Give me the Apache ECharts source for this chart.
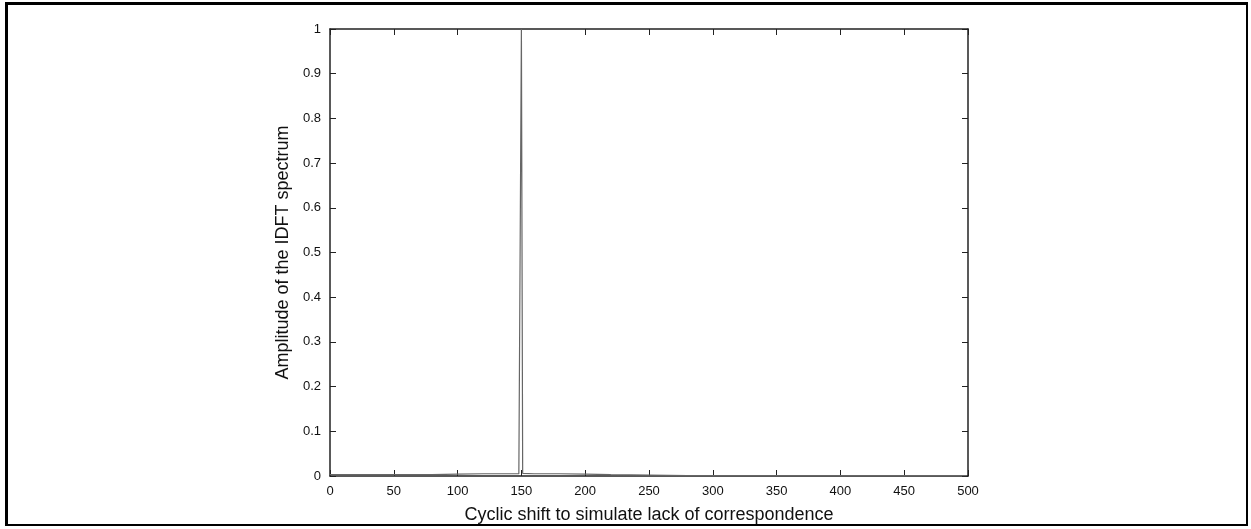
<!DOCTYPE html>
<html>
<head>
<meta charset="utf-8">
<title>IDFT spectrum</title>
<script src="https://cdn.jsdelivr.net/npm/echarts@6/dist/echarts.min.js"></script>
<style>
  html, body { margin: 0; padding: 0; background: #fff; }
  #frame {
    position: absolute; left: 5px; top: 2px; width: 1243px; height: 524px;
    border-top: 3px solid #000; border-left: 3px solid #000;
    border-right: 2px solid #000; border-bottom: 2px solid #000;
    box-sizing: border-box;
  }
  #chart { position: absolute; left: 0; top: 0; width: 1251px; height: 529px; }
</style>
</head>
<body>
<div id="frame"></div>
<div id="chart"></div>
<script>
// cyclic shift (x) and IDFT amplitude (y)
const shifts = [0, 20, 40, 60, 80, 100, 120, 140, 148, 149, 150, 151, 152, 160, 180, 200, 220, 250, 280, 300, 350, 400, 450, 499];
const amplitude = [0.003, 0.003, 0.003, 0.003, 0.003, 0.004, 0.005, 0.005, 0.005, 0.006, 1.0, 0.006, 0.005, 0.005, 0.005, 0.004, 0.003, 0.002, 0.001, 0.001, 0.001, 0.001, 0.001, 0.001];

const xTicks = [0, 50, 100, 150, 200, 250, 300, 350, 400, 450, 500];
const yTicks = [0, 0.1, 0.2, 0.3, 0.4, 0.5, 0.6, 0.7, 0.8, 0.9, 1];

const axisColor = '#222';
const font = 'Liberation Sans, Arial, Helvetica, sans-serif';

const chart = echarts.init(document.getElementById('chart'));

const baseX = {
  type: 'value', min: xTicks[0], max: xTicks[xTicks.length - 1], interval: 50,
  axisLine: { show: true, onZero: false, lineStyle: { color: axisColor, width: 1.5 } },
  axisTick: { show: true, inside: true, length: 6, lineStyle: { color: axisColor } },
  splitLine: { show: false }
};
const baseY = {
  type: 'value', min: yTicks[0], max: yTicks[yTicks.length - 1], interval: 0.1,
  axisLine: { show: true, onZero: false, lineStyle: { color: axisColor, width: 1.5 } },
  axisTick: { show: true, inside: true, length: 6, lineStyle: { color: axisColor } },
  splitLine: { show: false }
};

chart.setOption({
  animation: false,
  grid: { left: 330, right: 283, top: 29, bottom: 52 },
  xAxis: [
    Object.assign({}, baseX, {
      position: 'bottom',
      name: 'Cyclic shift to simulate lack of correspondence',
      nameLocation: 'middle', nameGap: 30,
      nameTextStyle: { fontFamily: font, fontSize: 18, color: '#111' },
      axisLabel: { margin: 9, fontFamily: font, fontSize: 13, color: '#111' }
    }),
    Object.assign({}, baseX, { position: 'top', axisLabel: { show: false } })
  ],
  yAxis: [
    Object.assign({}, baseY, {
      position: 'left',
      name: 'Amplitude of the IDFT spectrum',
      nameLocation: 'middle', nameGap: 38,
      nameTextStyle: { fontFamily: font, fontSize: 18, color: '#111' },
      axisLabel: {
        margin: 9, fontFamily: font, fontSize: 13, color: '#111',
        formatter: v => String(Math.round(v * 10) / 10)
      }
    }),
    Object.assign({}, baseY, { position: 'right', axisLabel: { show: false } })
  ],
  series: [{
    type: 'line',
    data: shifts.map((s, i) => [s, amplitude[i]]),
    showSymbol: false,
    lineStyle: { color: '#666', width: 1.2 }
  }]
});
</script>
</body>
</html>
